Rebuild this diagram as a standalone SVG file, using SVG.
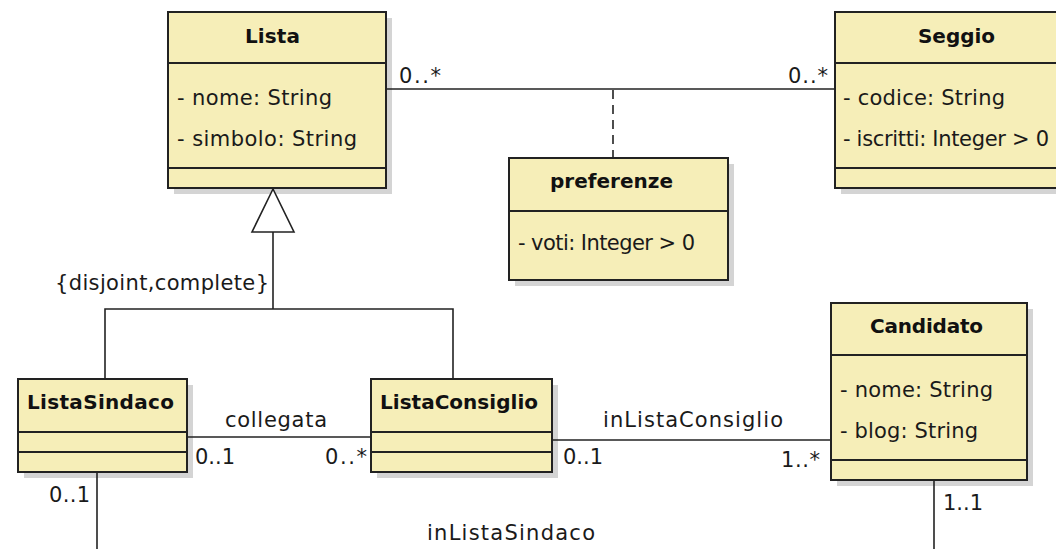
<svg xmlns="http://www.w3.org/2000/svg" width="1056" height="549" viewBox="0 0 1056 549">
  <style>
    .shadow { fill: #d4d4d4; }
    .box { fill: #f6eeb8; stroke: #222; stroke-width: 2; }
    .sep { stroke: #222; stroke-width: 2; }
    .title { font-family: "DejaVu Sans", "Liberation Sans", sans-serif; font-weight: bold; font-size: 20px; fill: #111; }
    .attr { font-family: "DejaVu Sans", "Liberation Sans", sans-serif; font-size: 21px; fill: #1a1a1a; }
    .lbl { font-family: "DejaVu Sans", "Liberation Sans", sans-serif; font-size: 21px; fill: #1a1a1a; }
    .edge { stroke: #222; stroke-width: 1.6; fill: none; }
    .dash { stroke: #222; stroke-width: 1.6; fill: none; stroke-dasharray: 9 6; }
  </style>

  <g id="Lista">
    <rect class="shadow" x="174" y="18" width="218" height="176"/>
    <rect class="box" x="168" y="12" width="218" height="176"/>
    <line class="sep" x1="168" y1="63" x2="386" y2="63"/>
    <line class="sep" x1="168" y1="168" x2="386" y2="168"/>
    <text class="title" x="272.5" y="43" text-anchor="middle" textLength="55">Lista</text>
    <text class="attr" x="177" y="105" textLength="155">- nome: String</text>
    <text class="attr" x="177" y="146" textLength="180">- simbolo: String</text>
  </g>

  <g id="Seggio">
    <rect class="shadow" x="841" y="18" width="244" height="176"/>
    <rect class="box" x="835" y="12" width="244" height="176"/>
    <line class="sep" x1="835" y1="63" x2="1079" y2="63"/>
    <line class="sep" x1="835" y1="168" x2="1079" y2="168"/>
    <text class="title" x="956.5" y="43" text-anchor="middle" textLength="77">Seggio</text>
    <text class="attr" x="843" y="105" textLength="162">- codice: String</text>
    <text class="attr" x="843" y="146" textLength="206">- iscritti: Integer &gt; 0</text>
  </g>

  <g id="preferenze">
    <rect class="shadow" x="515" y="164" width="219" height="122"/>
    <rect class="box" x="509" y="158" width="219" height="122"/>
    <line class="sep" x1="509" y1="211" x2="728" y2="211"/>
    <text class="title" x="611.5" y="188" text-anchor="middle" textLength="123">preferenze</text>
    <text class="attr" x="518" y="250" textLength="177">- voti: Integer &gt; 0</text>
  </g>

  <g id="ListaSindaco">
    <rect class="shadow" x="24" y="385" width="169" height="93"/>
    <rect class="box" x="18" y="379" width="169" height="93"/>
    <line class="sep" x1="18" y1="432" x2="187" y2="432"/>
    <line class="sep" x1="18" y1="452" x2="187" y2="452"/>
    <text class="title" x="100.5" y="409" text-anchor="middle" textLength="147">ListaSindaco</text>
  </g>

  <g id="ListaConsiglio">
    <rect class="shadow" x="377" y="385" width="181" height="93"/>
    <rect class="box" x="371" y="379" width="181" height="93"/>
    <line class="sep" x1="371" y1="432" x2="552" y2="432"/>
    <line class="sep" x1="371" y1="452" x2="552" y2="452"/>
    <text class="title" x="459" y="409" text-anchor="middle" textLength="158">ListaConsiglio</text>
  </g>

  <g id="Candidato">
    <rect class="shadow" x="837" y="309" width="196" height="177"/>
    <rect class="box" x="831" y="303" width="196" height="177"/>
    <line class="sep" x1="831" y1="355" x2="1027" y2="355"/>
    <line class="sep" x1="831" y1="460" x2="1027" y2="460"/>
    <text class="title" x="926.5" y="333" text-anchor="middle" textLength="113">Candidato</text>
    <text class="attr" x="840" y="397" textLength="153">- nome: String</text>
    <text class="attr" x="840" y="438" textLength="138">- blog: String</text>
  </g>

  <!-- associations, generalization and association class link (drawn over the box shadows) -->
  <g id="connectors">
    <!-- preferenze: Lista - Seggio -->
    <line class="edge" x1="387" y1="89" x2="834" y2="89"/>
    <line class="dash" x1="613" y1="90" x2="613" y2="157"/>
    <text class="lbl" x="399" y="83" textLength="42">0..*</text>
    <text class="lbl" x="788" y="83" textLength="40">0..*</text>

    <!-- generalization Lista <- ListaSindaco, ListaConsiglio -->
    <polyline class="edge" points="105,378 105,309 453,309 453,378"/>
    <line class="edge" x1="273" y1="309" x2="273" y2="232"/>
    <polygon points="273,189 252,232 294,232" fill="#fff" stroke="#222" stroke-width="1.6"/>
    <text class="lbl" x="55" y="290" textLength="214">{disjoint,complete}</text>

    <!-- collegata -->
    <line class="edge" x1="188" y1="437" x2="370" y2="437"/>
    <text class="lbl" x="225" y="427" textLength="102">collegata</text>
    <text class="lbl" x="195" y="464" textLength="40">0..1</text>
    <text class="lbl" x="325" y="464" textLength="42">0..*</text>

    <!-- inListaConsiglio -->
    <line class="edge" x1="553" y1="440" x2="830" y2="440"/>
    <text class="lbl" x="603" y="427" textLength="180">inListaConsiglio</text>
    <text class="lbl" x="563" y="464" textLength="40">0..1</text>
    <text class="lbl" x="781" y="467" textLength="39">1..*</text>

    <!-- inListaSindaco -->
    <line class="edge" x1="97" y1="473" x2="97" y2="549"/>
    <line class="edge" x1="934" y1="481" x2="934" y2="549"/>
    <text class="lbl" x="49" y="502" textLength="41">0..1</text>
    <text class="lbl" x="943" y="510" textLength="40">1..1</text>
    <text class="lbl" x="427" y="540" textLength="168">inListaSindaco</text>
  </g>
</svg>
